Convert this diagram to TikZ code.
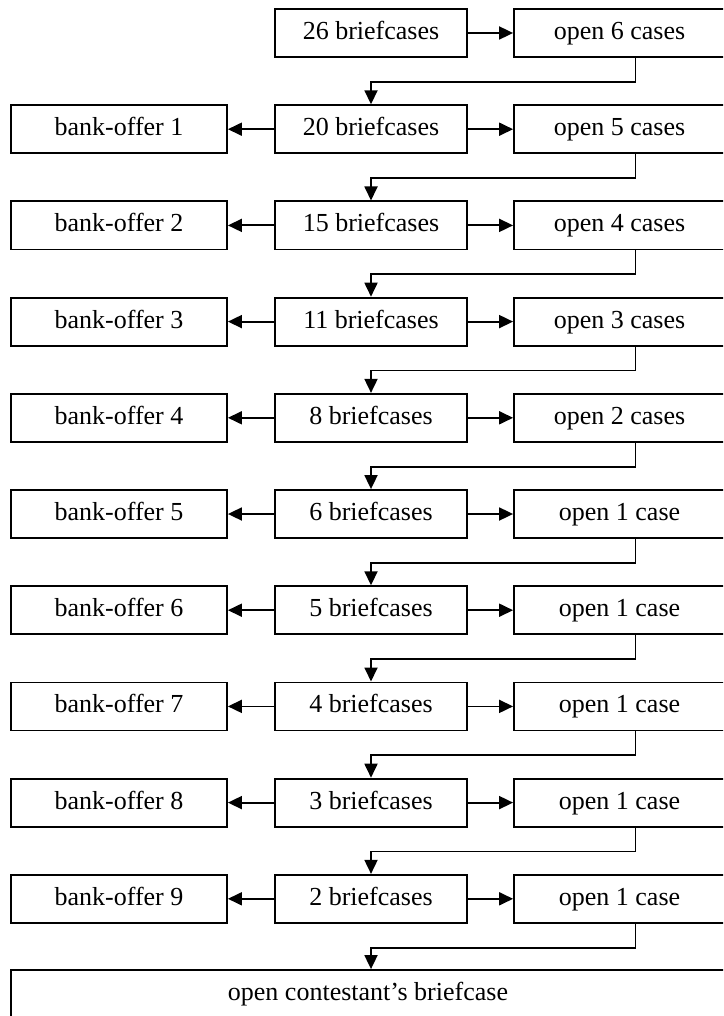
\documentclass[tikz,border=0pt]{standalone}
\usepackage{fontspec}
\setmainfont{Liberation Serif}
\usepackage{tikz}
\usetikzlibrary{arrows.meta}

\begin{document}
\begin{tikzpicture}[x=1pt,y=-1pt]
		\tikzset{box/.style={shape = rectangle, draw, line width = 1.8pt, minimum height = 48pt,
				inner sep = 0pt, text height = 18pt, text depth = 5pt,
				font = \fontsize{26}{30}\selectfont}}
		\tikzset{offerbox/.style={box, minimum width = 216pt}}
		\tikzset{casebox/.style={box, minimum width = 192pt}}
		\tikzset{openbox/.style={box, minimum width = 211pt}}
		\tikzset{edge/.style={-{Triangle[length=14pt,width=13pt]}, line width = 1.8pt}}
		\useasboundingbox (0,0) rectangle (723,1016);
		\clip (0,0) rectangle (723,1016);
					%vertices
					\node[casebox] (m0) at (371, 33) {26 briefcases};
					\node[openbox] (o0) at (619.5, 33) {open 6 cases};
					\node[offerbox] (b1) at (119, 129.2) {bank-offer 1};
					\node[casebox] (m1) at (371, 129.2) {20 briefcases};
					\node[openbox] (o1) at (619.5, 129.2) {open 5 cases};
					\node[offerbox] (b2) at (119, 225.4) {bank-offer 2};
					\node[casebox] (m2) at (371, 225.4) {15 briefcases};
					\node[openbox] (o2) at (619.5, 225.4) {open 4 cases};
					\node[offerbox] (b3) at (119, 321.6) {bank-offer 3};
					\node[casebox] (m3) at (371, 321.6) {11 briefcases};
					\node[openbox] (o3) at (619.5, 321.6) {open 3 cases};
					\node[offerbox] (b4) at (119, 417.8) {bank-offer 4};
					\node[casebox] (m4) at (371, 417.8) {8 briefcases};
					\node[openbox] (o4) at (619.5, 417.8) {open 2 cases};
					\node[offerbox] (b5) at (119, 514) {bank-offer 5};
					\node[casebox] (m5) at (371, 514) {6 briefcases};
					\node[openbox] (o5) at (619.5, 514) {open 1 case};
					\node[offerbox] (b6) at (119, 610.2) {bank-offer 6};
					\node[casebox] (m6) at (371, 610.2) {5 briefcases};
					\node[openbox] (o6) at (619.5, 610.2) {open 1 case};
					\node[offerbox] (b7) at (119, 706.4) {bank-offer 7};
					\node[casebox] (m7) at (371, 706.4) {4 briefcases};
					\node[openbox] (o7) at (619.5, 706.4) {open 1 case};
					\node[offerbox] (b8) at (119, 802.6) {bank-offer 8};
					\node[casebox] (m8) at (371, 802.6) {3 briefcases};
					\node[openbox] (o8) at (619.5, 802.6) {open 1 case};
					\node[offerbox] (b9) at (119, 898.8) {bank-offer 9};
					\node[casebox] (m9) at (371, 898.8) {2 briefcases};
					\node[openbox] (o9) at (619.5, 898.8) {open 1 case};
					\node[box, minimum width = 714pt] (end) at (368, 994) {open contestant's briefcase};
					%edges
					\draw[edge] (m0) -- (o0);
					\draw[edge] ([xshift=16pt]o0.south) -- ++(0,24) -| (m1.north);
					\draw[edge] (m1) -- (b1);
					\draw[edge] (m1) -- (o1);
					\draw[edge] ([xshift=16pt]o1.south) -- ++(0,24) -| (m2.north);
					\draw[edge] (m2) -- (b2);
					\draw[edge] (m2) -- (o2);
					\draw[edge] ([xshift=16pt]o2.south) -- ++(0,24) -| (m3.north);
					\draw[edge] (m3) -- (b3);
					\draw[edge] (m3) -- (o3);
					\draw[edge] ([xshift=16pt]o3.south) -- ++(0,24) -| (m4.north);
					\draw[edge] (m4) -- (b4);
					\draw[edge] (m4) -- (o4);
					\draw[edge] ([xshift=16pt]o4.south) -- ++(0,24) -| (m5.north);
					\draw[edge] (m5) -- (b5);
					\draw[edge] (m5) -- (o5);
					\draw[edge] ([xshift=16pt]o5.south) -- ++(0,24) -| (m6.north);
					\draw[edge] (m6) -- (b6);
					\draw[edge] (m6) -- (o6);
					\draw[edge] ([xshift=16pt]o6.south) -- ++(0,24) -| (m7.north);
					\draw[edge] (m7) -- (b7);
					\draw[edge] (m7) -- (o7);
					\draw[edge] ([xshift=16pt]o7.south) -- ++(0,24) -| (m8.north);
					\draw[edge] (m8) -- (b8);
					\draw[edge] (m8) -- (o8);
					\draw[edge] ([xshift=16pt]o8.south) -- ++(0,24) -| (m9.north);
					\draw[edge] (m9) -- (b9);
					\draw[edge] (m9) -- (o9);
					\draw[edge] ([xshift=16pt]o9.south) -- ++(0,24) -| (end.north -| m9.south);
					
\end{tikzpicture}
\end{document}
